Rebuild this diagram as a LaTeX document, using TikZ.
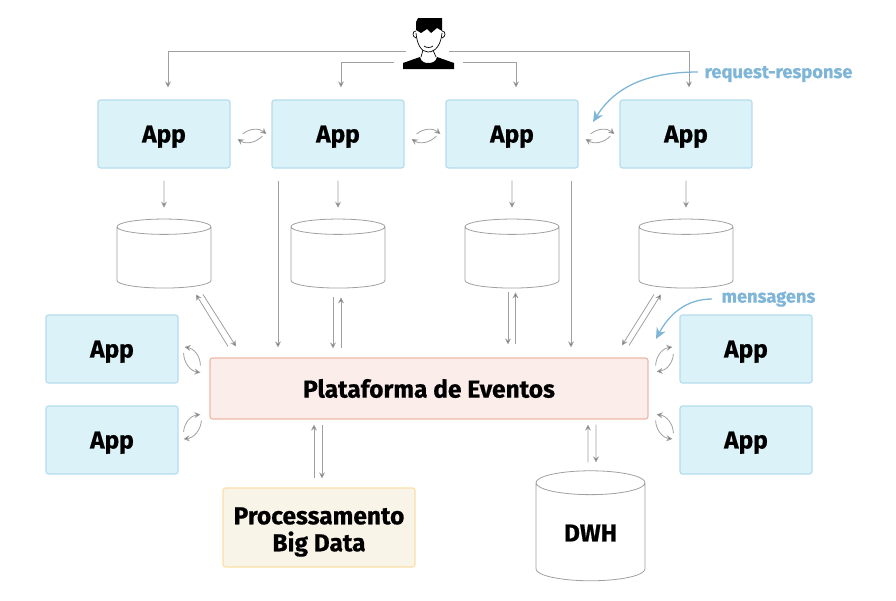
\documentclass[tikz,border=0pt]{standalone}
\usepackage{fontspec}
\setmainfont{Fira Sans}[BoldFeatures={FakeBold=0.6}]
\usetikzlibrary{shapes.geometric}
\usetikzlibrary{arrows.meta}
\definecolor{appfill}{HTML}{DCF2F9}
\definecolor{appline}{HTML}{B5DDEC}
\definecolor{evtfill}{HTML}{FBEDE9}
\definecolor{evtline}{HTML}{EDB9A6}
\definecolor{procfill}{HTML}{F9F4E8}
\definecolor{procline}{HTML}{FBE0A8}
\definecolor{notecol}{HTML}{7FB6D8}
\definecolor{linecol}{HTML}{A0A0A0}
\definecolor{tipcol}{HTML}{3A3A3A}
\tikzset{
    box/.style={
        draw,
        rounded corners=2.5pt,
        line width=1.2pt,
        align=center,
        font=\fontsize{24.5}{27}\selectfont\bfseries},
    app/.style={
        box,
        fill=appfill,
        draw=appline,
        text depth=0pt,
        minimum width=132pt,
        minimum height=68pt},
    db/.style={
        cylinder,
        shape border rotate=90,
        draw=linecol,
        line width=0.8pt,
        minimum width=94pt,
        minimum height=69pt,
        aspect=2.3},
    link/.style={
        draw=linecol,
        line width=0.8pt,
        -{Stealth[length=6pt,width=6pt,fill=tipcol]}},
    note/.style={
        text=notecol,
        text depth=0pt,
        font=\fontsize{18.3}{20}\selectfont\bfseries},
    notelink/.style={
        draw=notecol,
        line width=1.3pt,
        -{Stealth[length=11pt,width=10pt]}}}

\begin{document}
\begin{tikzpicture}[x=1pt,y=-1pt]
    \useasboundingbox (0,0) rectangle (896,600);

    % top row
    \node[app] (a1) at (164,134) {App};
    \node[app] (a2) at (338,134) {App};
    \node[app] (a3) at (512,134) {App};
    \node[app] (a4) at (686,134) {App};

    \node[db] (d1) at (164,259) {};
    \node[db] (d2) at (338,259) {};
    \node[db] (d3) at (512,259) {};
    \node[db] (d4) at (686,259) {};

    % middle
    \node[app] (l1) at (112,349) {App};
    \node[app] (l2) at (112,440) {App};
    \node[app] (r1) at (746,349) {App};
    \node[app] (r2) at (746,440) {App};
    \node[box,fill=evtfill,draw=evtline,minimum width=438pt,minimum height=61pt] (evt) at (429,388.5) {Plataforma de Eventos};

    % bottom
    \node[box,fill=procfill,draw=procline,minimum width=192pt,minimum height=79pt] (proc) at (319,527.5) {\rule{0pt}{26pt}Processamento\\Big Data};
    \node[db,minimum width=109pt,minimum height=110pt,aspect=0.4,text depth=2pt,font=\fontsize{24.5}{27}\selectfont\bfseries] (dwh) at (590.5,534) {DWH};

    % person
    \coordinate (user) at (428,44);
    \fill (403,69) -- (403,63) -- (420,57) .. controls (421,62) and (425,63) .. (428,63) .. controls (432,63) and (436,62) .. (437,57) -- (454,63) -- (454,69) -- cycle;
    \draw[line width=0.7pt] (416,33) .. controls (417,44) and (421,52) .. (428,52) .. controls (436,52) and (441,44) .. (442,33);
    \draw[line width=0.7pt] (423,50) -- (421,57) (433,50) -- (436,57);
    \draw[line width=0.7pt] (416,31) .. controls (412,31) and (412,37) .. (416,38);
    \draw[line width=0.7pt] (442,31) .. controls (446,31) and (446,37) .. (442,38);
    \draw[line width=0.7pt] (424,46) .. controls (426,48) and (431,48) .. (433,46);
    \fill (418,18) -- (442,18) -- (442,31) -- (437,28) -- (431,33) -- (427,29) -- (421,33) -- (416,30) -- (416,22) -- cycle;

    % user to apps
    \draw[link] ([xshift=-22pt,yshift=-7pt]user) -| ([xshift=4pt,yshift=12pt]a1.north);
    \draw[link] ([xshift=-34pt,yshift=-18pt]user) -| ([xshift=3pt,yshift=12pt]a2.north);
    \draw[link] ([xshift=35pt,yshift=-18pt]user) -| ([xshift=4pt,yshift=12pt]a3.north);
    \draw[link] ([xshift=21pt,yshift=-7pt]user) -| ([xshift=3pt,yshift=12pt]a4.north);

    % between apps
    \draw[link] ([xshift=12pt]a1.east) to[bend left=40] ([xshift=-5pt]a2.west);
    \draw[link] ([xshift=-9pt,yshift=-2pt]a2.west) to[bend left=40] ([xshift=7pt,yshift=-5pt]a1.east);
    \draw[link] ([xshift=12pt]a2.east) to[bend left=40] ([xshift=-5pt]a3.west);
    \draw[link] ([xshift=-9pt,yshift=-2pt]a3.west) to[bend left=40] ([xshift=7pt,yshift=-5pt]a2.east);
    \draw[link] ([xshift=12pt]a3.east) to[bend left=40] ([xshift=-5pt]a4.west);
    \draw[link] ([xshift=-9pt,yshift=-2pt]a4.west) to[bend left=40] ([xshift=7pt,yshift=-5pt]a3.east);

    % apps to databases
    \draw[link] ([yshift=-12pt]a1.south) -- ([yshift=11pt]d1.north);
    \draw[link] ([yshift=-12pt]a2.south) -- ([yshift=11pt]d2.north);
    \draw[link] ([yshift=-12pt]a3.south) -- ([yshift=11pt]d3.north);
    \draw[link] ([yshift=-12pt]a4.south) -- ([yshift=11pt]d4.north);

    % apps to platform
    \draw[link] ([xshift=-60pt,yshift=-12pt]a2.south) -- ([xshift=-151pt,yshift=10pt]evt.north);
    \draw[link] ([xshift=59pt,yshift=-12pt]a3.south) -- ([xshift=142pt,yshift=10pt]evt.north);

    % databases and platform
    \draw[link] ([xshift=-201pt,yshift=11pt]evt.north) -- ([xshift=32pt,yshift=-6pt]d1.south);
    \draw[link] ([xshift=39pt,yshift=-6pt]d1.south) -- ([xshift=-193pt,yshift=11pt]evt.north);
    \draw[link] ([xshift=-5pt,yshift=-9pt]d2.south) -- ([xshift=-96pt,yshift=9pt]evt.north);
    \draw[link] ([xshift=-88pt,yshift=9pt]evt.north) -- ([xshift=3pt,yshift=-9pt]d2.south);
    \draw[link] ([xshift=-4pt,yshift=-4pt]d3.south) -- ([xshift=79pt,yshift=13pt]evt.north);
    \draw[link] ([xshift=86.5pt,yshift=13pt]evt.north) -- ([xshift=3.5pt,yshift=-4pt]d3.south);
    \draw[link] ([xshift=-32pt,yshift=-6pt]d4.south) -- ([xshift=193pt,yshift=12pt]evt.north);
    \draw[link] ([xshift=200pt,yshift=12pt]evt.north) -- ([xshift=-25pt,yshift=-6pt]d4.south);

    % side apps and platform
    \draw[link] ([xshift=-9pt,yshift=23pt]evt.west) to[bend right=40] ([xshift=6pt,yshift=2pt]l1.east);
    \draw[link] ([xshift=5pt,yshift=-4pt]l1.east) to[bend right=40] ([xshift=-9pt,yshift=16pt]evt.west);
    \draw[link] ([xshift=5pt,yshift=8pt]l2.east) to[bend left=40] ([xshift=-9pt,yshift=-26pt]evt.west);
    \draw[link] ([xshift=-8pt,yshift=-32pt]evt.west) to[bend left=40] ([xshift=5pt,yshift=1pt]l2.east);
    \draw[link] ([xshift=7pt,yshift=23pt]evt.east) to[bend left=40] ([xshift=-7pt,yshift=2pt]r1.west);
    \draw[link] ([xshift=-6pt,yshift=-5pt]r1.west) to[bend left=40] ([xshift=8pt,yshift=17pt]evt.east);
    \draw[link] ([xshift=-6pt,yshift=7pt]r2.west) to[bend right=40] ([xshift=8pt,yshift=-26pt]evt.east);
    \draw[link] ([xshift=7pt,yshift=-32pt]evt.east) to[bend right=40] ([xshift=-7pt,yshift=1pt]r2.west);

    % bottom links
    \draw[link] ([xshift=-5pt,yshift=9pt]proc.north) -- ([xshift=-115pt,yshift=-5pt]evt.south);
    \draw[link] ([xshift=-107pt,yshift=-5pt]evt.south) -- ([xshift=3pt,yshift=9pt]proc.north);
    \draw[link] ([xshift=-2.5pt,yshift=8pt]dwh.north) -- ([xshift=159pt,yshift=-5pt]evt.south);
    \draw[link] ([xshift=167pt,yshift=-5pt]evt.south) -- ([xshift=5.5pt,yshift=8pt]dwh.north);

    % notes
    \node[note,anchor=west] (noteA) at (701,72) {request-response};
    \node[note,anchor=west] (noteB) at (718,297) {mensagens};
    \coordinate (noteAtip) at (593,122);
    \coordinate (noteBtip) at (656,339);
    \draw[notelink] ([xshift=-3pt]noteA.west) to[out=180,in=58] (noteAtip);
    \draw[notelink] ([xshift=-6pt,yshift=-2pt]noteB.west) to[out=180,in=62] (noteBtip);
\end{tikzpicture}
\end{document}
